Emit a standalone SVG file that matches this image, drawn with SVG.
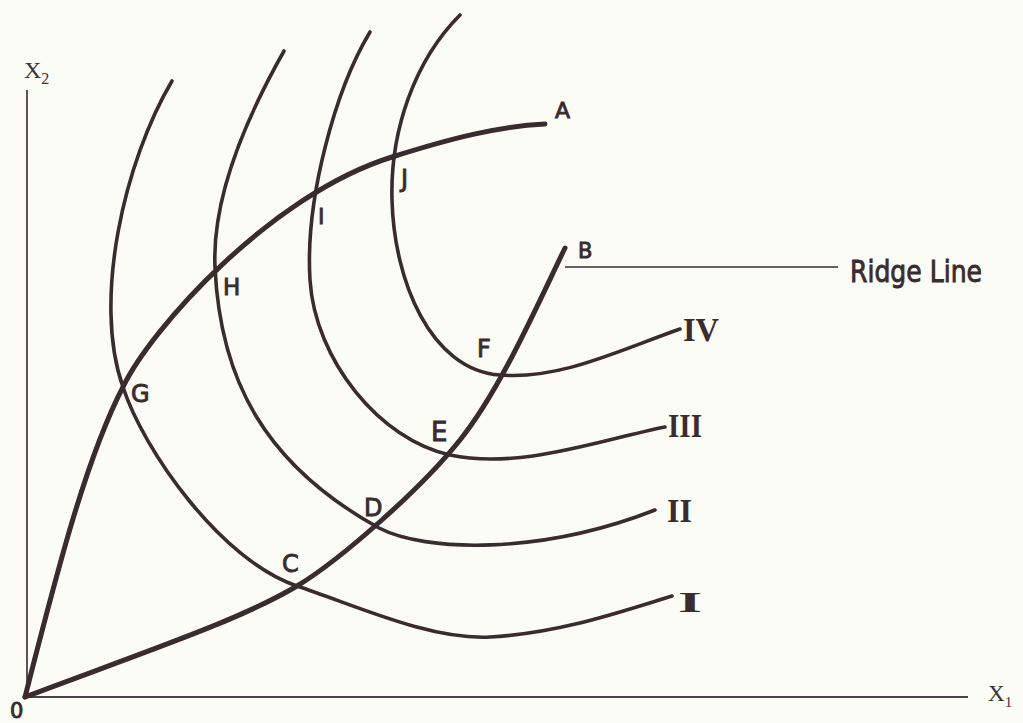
<svg xmlns="http://www.w3.org/2000/svg" width="1023" height="723" viewBox="0 0 1023 723">
<style>
.axis{fill:none;stroke:#4a4246;stroke-width:1.8}
.iso{fill:none;stroke:#3a2b2e;stroke-width:3.6;stroke-linecap:round;stroke-linejoin:round}
.exp{fill:none;stroke:#3a2b2e;stroke-width:5;stroke-linecap:round;stroke-linejoin:round}
.thin{fill:none;stroke:#3a2b2e;stroke-width:1.6}
.hand{font-family:"DejaVu Sans","Liberation Sans",sans-serif;fill:#3a2b2e;stroke:#3a2b2e;stroke-width:0.9}
.ser{font-family:"Liberation Serif",serif;fill:#3a3438}
.rom{font-family:"Liberation Serif",serif;font-weight:bold;fill:#3a2b2e}
</style>
<rect width="1023" height="723" fill="#fcfcf6"/>
<g id="axes">
<path class="axis" d="M27,90 L27,697 L968,697"/>
<text class="ser" x="24" y="78" font-size="24">X<tspan font-size="16" dy="6">2</tspan></text>
<text class="ser" x="988" y="701" font-size="23">X<tspan font-size="15" dy="6">1</tspan></text>
<text class="hand" x="10" y="718" font-size="21">0</text>
</g>
<g id="isoquants">
<path class="iso" d="M172,81 C125,160 92,300 123,387 C143,449 220,560 297,586 C357,606 430,640 490,637 C560,633 620,612 672,596"/>
<path class="iso" d="M284,51 C245,120 212,200 215,267 C220,380 265,465 379,528 C425,552 540,555 655,510"/>
<path class="iso" d="M370,32 C335,90 305,200 310,280 C315,360 380,440 450,455 C520,470 600,440 665,427"/>
<path class="iso" d="M460,15 C415,60 390,130 392,200 C394,280 430,370 500,375 C560,380 620,350 680,329"/>
</g>
<g id="ridge-lines">
<path class="exp" d="M25,697 C55,580 85,460 123,387 C150,330 270,195 392,157 C452,138 500,126 545,124"/>
<path class="exp" d="M25,697 C150,650 240,620 297,586 C340,560 420,490 460,440 C500,390 535,310 565,248"/>
<path class="thin" d="M565,267 L838,267"/>
</g>
<g id="labels">
<text class="hand" x="555" y="118" font-size="22">A</text>
<text class="hand" x="578" y="258" font-size="21">B</text>
<text class="hand" x="282" y="572" font-size="24">C</text>
<text class="hand" x="364" y="516" font-size="24">D</text>
<text class="hand" x="431" y="441" font-size="26">E</text>
<text class="hand" x="477" y="357" font-size="24">F</text>
<text class="hand" x="131" y="402" font-size="24">G</text>
<text class="hand" x="223" y="295" font-size="23">H</text>
<text class="hand" x="318" y="224" font-size="22">I</text>
<text class="hand" x="401" y="187" font-size="24">J</text>
<text class="hand" x="850" y="282" font-size="30" stroke-width="0.6" textLength="132" lengthAdjust="spacingAndGlyphs">Ridge Line</text>
<text class="rom" x="683" y="341" font-size="34" textLength="36" lengthAdjust="spacingAndGlyphs">IV</text>
<text class="rom" x="668" y="437" font-size="34" textLength="34" lengthAdjust="spacingAndGlyphs">III</text>
<text class="rom" x="667" y="522" font-size="33" textLength="25" lengthAdjust="spacingAndGlyphs">II</text>
<text class="rom" x="678" y="612" font-size="30" textLength="24" lengthAdjust="spacingAndGlyphs">I</text>
</g>
</svg>
